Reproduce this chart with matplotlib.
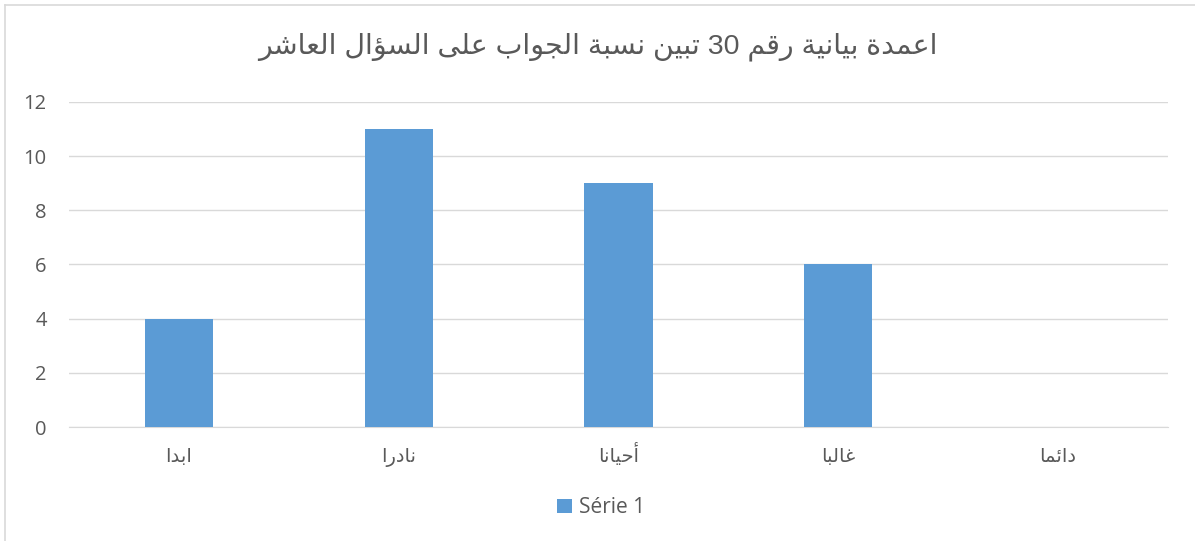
import re
import matplotlib
matplotlib.use('Agg')
import matplotlib.pyplot as plt
from matplotlib.lines import Line2D

# chart data
title = 'اعمدة بيانية رقم 30 تبين نسبة الجواب على السؤال العاشر'
categories = ['ابدا', 'نادرا', 'أحيانا', 'غالبا', 'دائما']
values = [4, 11, 9, 6, 0]
series_name = 'Série 1'
yticks = [0, 2, 4, 6, 8, 10, 12]

# presentation forms: isolated, final, initial, medial (None = right-joining only)
FORMS = {
    'ا': (0xFE8D, 0xFE8E, None, None),
    'أ': (0xFE83, 0xFE84, None, None),
    'ؤ': (0xFE85, 0xFE86, None, None),
    'ئ': (0xFE89, 0xFE8A, 0xFE8B, 0xFE8C),
    'ب': (0xFE8F, 0xFE90, 0xFE91, 0xFE92),
    'ة': (0xFE93, 0xFE94, None, None),
    'ت': (0xFE95, 0xFE96, 0xFE97, 0xFE98),
    'ج': (0xFE9D, 0xFE9E, 0xFE9F, 0xFEA0),
    'ح': (0xFEA1, 0xFEA2, 0xFEA3, 0xFEA4),
    'د': (0xFEA9, 0xFEAA, None, None),
    'ر': (0xFEAD, 0xFEAE, None, None),
    'س': (0xFEB1, 0xFEB2, 0xFEB3, 0xFEB4),
    'ش': (0xFEB5, 0xFEB6, 0xFEB7, 0xFEB8),
    'ع': (0xFEC9, 0xFECA, 0xFECB, 0xFECC),
    'غ': (0xFECD, 0xFECE, 0xFECF, 0xFED0),
    'ق': (0xFED5, 0xFED6, 0xFED7, 0xFED8),
    'ل': (0xFEDD, 0xFEDE, 0xFEDF, 0xFEE0),
    'م': (0xFEE1, 0xFEE2, 0xFEE3, 0xFEE4),
    'ن': (0xFEE5, 0xFEE6, 0xFEE7, 0xFEE8),
    'و': (0xFEED, 0xFEEE, None, None),
    'ى': (0xFEEF, 0xFEF0, None, None),
    'ي': (0xFEF1, 0xFEF2, 0xFEF3, 0xFEF4),
}
LAM_ALEF = {'ا': (0xFEFB, 0xFEFC), 'أ': (0xFEF7, 0xFEF8)}


def shape(text):
    # join letters, then put the line into visual (left to right) order
    chars = list(text)
    out = []
    i = 0
    while i < len(chars):
        c = chars[i]
        if c not in FORMS:
            out.append(c)
            i += 1
            continue
        prev = chars[i - 1] if i > 0 else None
        joins_prev = prev in FORMS and FORMS[prev][2] is not None
        if c == 'ل' and i + 1 < len(chars) and chars[i + 1] in LAM_ALEF:
            iso, fin = LAM_ALEF[chars[i + 1]]
            out.append(chr(fin if joins_prev else iso))
            i += 2
            continue
        nxt = chars[i + 1] if i + 1 < len(chars) else None
        joins_next = FORMS[c][2] is not None and nxt in FORMS
        iso, fin, ini, med = FORMS[c]
        if joins_prev and joins_next:
            code = med
        elif joins_prev:
            code = fin
        elif joins_next:
            code = ini
        else:
            code = iso
        out.append(chr(code))
        i += 1
    visual = ''.join(out)[::-1]
    return re.sub(r'[0-9]+', lambda m: m.group(0)[::-1], visual)


text_color = '#595959'
fig = plt.figure(figsize=(11.95, 5.41), dpi=100)
ax = fig.add_axes([0.0577, 0.2107, 0.9197, 0.6008])

x = range(len(categories))
ax.bar(x, values, width=0.31, color='#5B9BD5', zorder=3, label=series_name)

ax.set_xlim(-0.5, len(categories) - 0.5)
ax.set_ylim(0, 12)
ax.set_yticks(yticks)
ax.set_yticklabels([str(t) for t in yticks], fontsize=14.5, color=text_color,
                   family=['Open Sans', 'DejaVu Sans'])
ax.set_xticks(list(x))
ax.set_xticklabels([shape(c) for c in categories], fontsize=14,
                   color=text_color, family=['DejaVu Sans'], va='baseline')
ax.tick_params(axis='both', length=0)
ax.tick_params(axis='x', pad=25)
ax.tick_params(axis='y', pad=16)
ax.grid(axis='y', color='#D9D9D9', linewidth=1, zorder=0)
for side in ['top', 'right', 'left']:
    ax.spines[side].set_visible(False)
ax.spines['bottom'].set_color('#D9D9D9')

fig.text(0.5, 0.914, shape(title), ha='center', va='center', fontsize=20.5,
         color=text_color, family=['Liberation Sans', 'DejaVu Sans'])

leg = fig.legend(loc='center', bbox_to_anchor=(0.503, 0.061), frameon=False,
                 prop={'family': 'Open Sans', 'size': 15},
                 handlelength=0.7, handleheight=0.7, handletextpad=0.35)
for t in leg.get_texts():
    t.set_color(text_color)

# outer chart border (top and left edges visible)
W, H = 1195, 541
fig.add_artist(Line2D([5 / W, 1], [1 - 5 / H, 1 - 5 / H], color='#D9D9D9', lw=1.2))
fig.add_artist(Line2D([5 / W, 5 / W], [0, 1 - 5 / H], color='#D9D9D9', lw=1.2))

fig.savefig('out.png', dpi=100, facecolor='white')
